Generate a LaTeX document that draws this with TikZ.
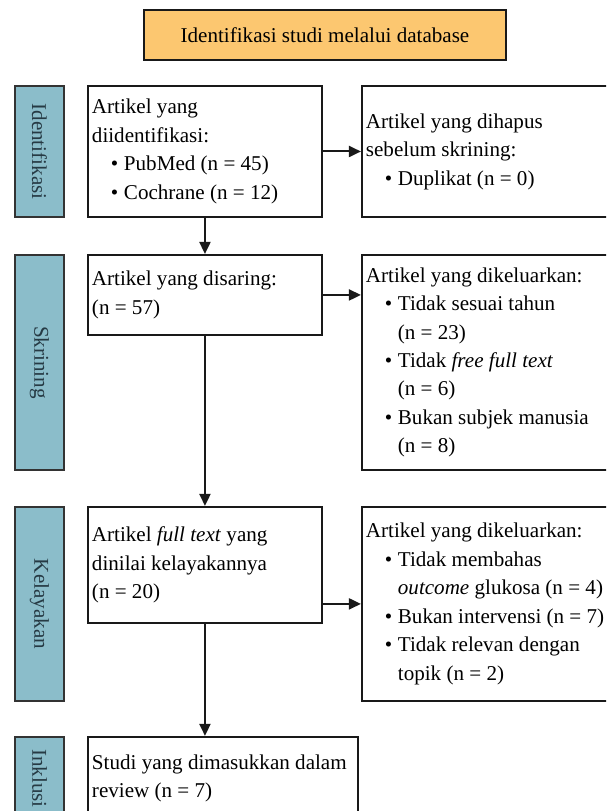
\documentclass[tikz,border=0pt]{standalone}
\usepackage{fontspec}
\setmainfont{Liberation Serif}
\usepackage{tikz}
\usetikzlibrary{positioning,arrows.meta}
\definecolor{stage}{RGB}{139,189,202}
\definecolor{stagetext}{RGB}{38,58,68}
\definecolor{head}{RGB}{252,199,112}

% bullet and hanging indent for the lists
\newcommand{\bul}{\hspace*{0.38cm}\makebox[0.26cm][l]{\textbullet}}
\newcommand{\ind}{\hspace*{0.64cm}}

\begin{document}
\begin{tikzpicture}[
    x=0.02cm, y=-0.02cm,
    txt/.style={font=\fontsize{12}{16.2}\selectfont},
    box/.style={txt, rectangle, draw=black!90, line width=0.04cm, fill=white, align=flush left, inner xsep=0.08cm},
    stagebar/.style={txt, rectangle, draw=black!80, line width=0.04cm, fill=stage, text=stagetext, minimum width=0.98cm, inner sep=0pt},
    head/.style={txt, rectangle, draw=black!90, line width=0.04cm, fill=head, minimum width=7.24cm, minimum height=1cm},
    arrow/.style={-{Triangle[length=0.24cm,width=0.22cm]}, line width=0.04cm, color=black!90}
]
\useasboundingbox (0,0) rectangle (606,811);
\clip (0,0) rectangle (606,811);

% Title
\node[head, anchor=north west] (title) at (143,9) {Identifikasi studi melalui database};

% Stage bars (left)
\node[stagebar, minimum height=2.62cm, anchor=north west] (idbar) at (14,85) {\rotatebox{-90}{Identifikasi}};
\node[stagebar, minimum height=4.30cm, below=0.72cm of idbar] (scbar) {\rotatebox{-90}{Skrining}};
\node[stagebar, minimum height=3.88cm, below=0.70cm of scbar] (elbar) {\rotatebox{-90}{Kelayakan}};
\node[stagebar, minimum height=1.66cm, below=0.68cm of elbar] (inbar) {\rotatebox{-90}{Inklusi}};

% Main column
\node[box, text width=4.52cm, minimum height=2.62cm, right=0.44cm of idbar.north east, anchor=north west] (ident)
    {Artikel yang\\diidentifikasi:\\\bul PubMed (n = 45)\\\bul Cochrane (n = 12)};
\node[box, text width=4.52cm, minimum height=1.60cm, right=0.44cm of scbar.north east, anchor=north west] (screen)
    {Artikel yang disaring:\\(n = 57)};
\node[box, text width=4.52cm, minimum height=2.32cm, right=0.44cm of elbar.north east, anchor=north west] (elig)
    {Artikel \textit{full text} yang\\dinilai kelayakannya\\(n = 20)};
\node[box, text width=5.24cm, minimum height=1.66cm, right=0.44cm of inbar.north east, anchor=north west] (incl)
    {Studi yang dimasukkan dalam\\review (n = 7)};

% Excluded column
\node[box, text width=4.96cm, minimum height=2.62cm, right=0.76cm of ident.north east, anchor=north west] (removed)
    {Artikel yang dihapus\\sebelum skrining:\\\bul Duplikat (n = 0)};
\node[box, text width=4.96cm, minimum height=4.30cm, right=0.76cm of screen.north east, anchor=north west] (excl1)
    {Artikel yang dikeluarkan:\\\bul Tidak sesuai tahun\\\ind(n = 23)\\\bul Tidak \textit{free full text}\\\ind(n = 6)\\\bul Bukan subjek manusia\\\ind(n = 8)};
\node[box, text width=4.96cm, minimum height=3.88cm, right=0.76cm of elig.north east, anchor=north west] (excl2)
    {Artikel yang dikeluarkan:\\\bul Tidak membahas\\\ind\textit{outcome} glukosa (n = 4)\\\bul Bukan intervensi (n = 7)\\\bul Tidak relevan dengan\\\ind topik (n = 2)};

% Flow
\draw[arrow] (ident) -- (removed);
\draw[arrow] (ident) -- (screen);
\draw[arrow] (screen.east) -- (screen.east -| excl1.west);
\draw[arrow] (screen) -- (elig);
\draw[arrow] (elig.east |- excl2.west) -- (excl2.west);
\draw[arrow] (elig.south) -- (elig.south |- incl.north);
\end{tikzpicture}
\end{document}
